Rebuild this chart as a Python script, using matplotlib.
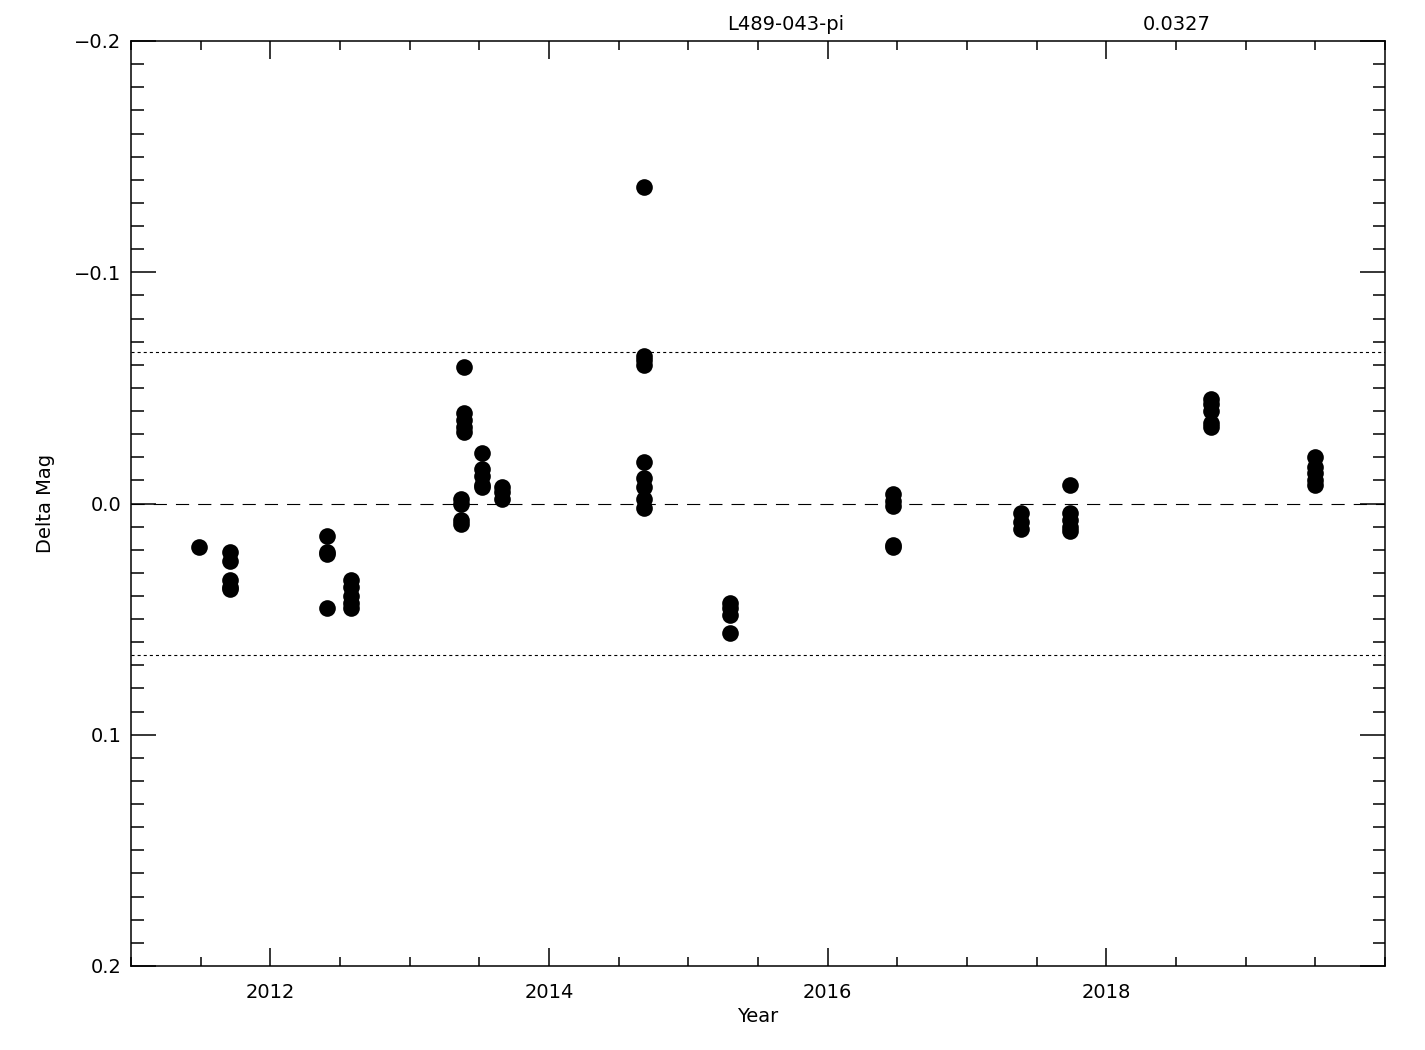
import numpy as np
import matplotlib
matplotlib.use("Agg")
import matplotlib.pyplot as plt
from matplotlib.ticker import MultipleLocator, FixedLocator

# epochs (decimal year) and delta mag for each observation
years = [2011.49,
         2011.71, 2011.71, 2011.71, 2011.71, 2011.71,
         2012.41, 2012.41, 2012.41, 2012.41,
         2012.58, 2012.58, 2012.58, 2012.58, 2012.58,
         2013.39, 2013.39, 2013.39, 2013.39, 2013.39,
         2013.37, 2013.37, 2013.37, 2013.37,
         2013.52, 2013.52, 2013.52, 2013.52, 2013.52,
         2013.66, 2013.66, 2013.66,
         2014.68, 2014.68, 2014.68, 2014.68, 2014.68, 2014.68, 2014.68, 2014.68, 2014.68,
         2015.30, 2015.30, 2015.30, 2015.30,
         2016.47, 2016.47, 2016.47, 2016.47, 2016.47,
         2017.39, 2017.39, 2017.39,
         2017.74, 2017.74, 2017.74, 2017.74, 2017.74,
         2018.75, 2018.75, 2018.75, 2018.75, 2018.75,
         2019.50, 2019.50, 2019.50, 2019.50, 2019.50]
dmag = [0.019,
        0.021, 0.025, 0.033, 0.036, 0.037,
        0.014, 0.021, 0.022, 0.045,
        0.033, 0.036, 0.040, 0.043, 0.045,
        -0.059, -0.039, -0.036, -0.033, -0.031,
        -0.002, 0.000, 0.007, 0.009,
        -0.022, -0.015, -0.012, -0.008, -0.007,
        -0.007, -0.005, -0.002,
        -0.137, -0.064, -0.062, -0.060, -0.018, -0.011, -0.007, -0.002, 0.002,
        0.043, 0.045, 0.048, 0.056,
        -0.004, -0.001, 0.001, 0.018, 0.019,
        0.004, 0.008, 0.011,
        -0.008, 0.004, 0.007, 0.010, 0.012,
        -0.045, -0.043, -0.040, -0.035, -0.033,
        -0.020, -0.016, -0.013, -0.010, -0.008]

year_ticks = [2012, 2014, 2016, 2018]
star_name = "L489-043-pi"
scatter_val = 0.0327

plt.rcParams['font.family'] = ['DejaVu Sans']
plt.rcParams['lines.scale_dashes'] = False

fig = plt.figure(figsize=(14.25, 10.5), dpi=100)
ax = fig.add_axes([131 / 1425, 84 / 1050, 1254 / 1425, 925 / 1050])

ax.plot(years, dmag, 'o', color='black', markersize=12, markeredgewidth=0)

ax.axhline(0.0, color='black', lw=0.8, dashes=(9.5, 6.5))
ax.axhline(2 * scatter_val, color='black', lw=0.8, dashes=(2.2, 2.2))
ax.axhline(-2 * scatter_val, color='black', lw=0.8, dashes=(2.2, 2.2))

ax.set_xlim(2011, 2020)
ax.set_ylim(0.2, -0.2)

ax.xaxis.set_major_locator(FixedLocator(year_ticks))
ax.xaxis.set_minor_locator(MultipleLocator(0.5))
ax.yaxis.set_major_locator(MultipleLocator(0.1))
ax.yaxis.set_minor_locator(MultipleLocator(0.01))


def fmt_y(v, pos):
    if abs(v) < 1e-9:
        return "0.0"
    s = "%.1f" % abs(v)
    return ("\u2212" + s) if v < 0 else s


ax.yaxis.set_major_formatter(plt.FuncFormatter(fmt_y))

ax.tick_params(which='both', direction='in', top=True, right=True, labelsize=14, width=1.1)
ax.tick_params(axis='x', which='major', length=13, pad=12)
ax.tick_params(axis='x', which='minor', length=6.5)
ax.tick_params(axis='y', which='major', length=18, pad=7)
ax.tick_params(axis='y', which='minor', length=9)
for s in ax.spines.values():
    s.set_linewidth(1.1)

ax.set_xlabel("Year", fontsize=14, labelpad=4)
ax.set_ylabel("Delta Mag", fontsize=14, labelpad=14)

fig.text(786 / 1425, 1 - 24 / 1050, star_name, ha='center', va='center', fontsize=14)
fig.text(1177 / 1425, 1 - 24 / 1050, "%.4f" % scatter_val, ha='center', va='center', fontsize=14)

fig.savefig("out.png", dpi=100)
